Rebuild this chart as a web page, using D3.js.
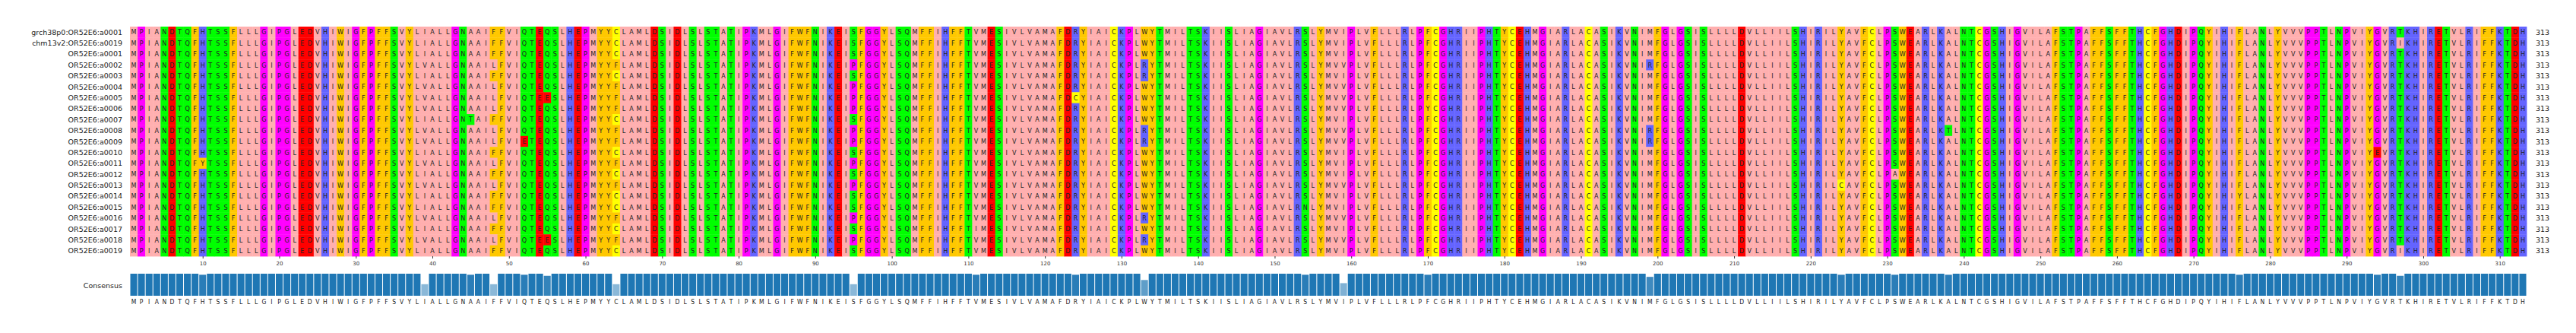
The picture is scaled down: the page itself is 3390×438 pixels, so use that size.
<!DOCTYPE html>
<html><head><meta charset="utf-8">
<script src="https://cdn.jsdelivr.net/npm/d3@7"></script>
<style>body{margin:0;background:#fff}</style>
</head><body>
<svg id="c" width="3390" height="438"></svg>
<script>
const names = ["grch38p0:OR52E6:a0001","chm13v2:OR52E6:a0019"].concat(d3.range(1,20).map(i=>"OR52E6:a"+String(i).padStart(4,"0")));
const consensus = "MPIANDTQFHTSSFLLLGIPGLEDVHIWIGFPFFSVYLIALLGNAAIFFVIQTEQSLHEPMYYCLAMLDSIDLSLSTAT" +
 "IPKMLGIFWFNIKEISFGGYLSQMFFIHFFTVMESIVLVAMAFDRYIAICKPLWYTMILTSKIISLIAGIAVLRSLYMV" +
 "IPLVFLLLRLPFCGHRIIPHTYCEHMGIARLACASIKVNIMFGLGSISLLLLDVLLIILSHIRILYAVFCLPSWEAR" +
 "LKALNTCGSHIGVILAFSTPAFFSFFTHCFGHDIPQYIHIFLANLYVVVPPTLNPVIYGVRTKHIRETVLRIFFKTDH";
// variants: [position (1-based), residue, rows]
const variants = [
 [10,"Y",[12]],
 [39,"V",[3,5,6,7,9,10,12,14,17,19]],
 [45,"T",[8]],
 [48,"L",[3,5,6,7,9,10,12,14,17,19]],
 [52,"E",[10]],
 [55,"E",[6,19]],
 [64,"F",[3,5,6,7,9,10,12,14,17,19]],
 [95,"P",[3,5,6,7,9,10,12,14,17,19]],
 [111,"I",[18]],
 [124,"C",[6]],
 [133,"R",[3,4,9,10,17,19]],
 [154,"N",[16]],
 [159,"V",[3,5,6,7,9,10,14,17,19]],
 [170,"Y",[7]],
 [199,"R",[3,9,10]],
 [224,"C",[14]],
 [231,"A",[13]],
 [238,"T",[9]],
 [276,"Y",[15]],
 [294,"E",[11]],
 [297,"I",[1,20]]
];
const tickLabels = d3.range(10,320,10);
const colors = {I:"#ffafaf",L:"#ffafaf",V:"#ffafaf",A:"#ffafaf",M:"#ffafaf",F:"#ffc800",W:"#ffc800",Y:"#ffc800",
 K:"#6464ff",R:"#6464ff",H:"#6464ff",D:"#ff0000",E:"#ff0000",S:"#00ff00",T:"#00ff00",N:"#00ff00",Q:"#00ff00",
 P:"#ff00ff",G:"#ff00ff",C:"#ffff00"};

const seqs = names.map(()=>consensus.split(""));
variants.forEach(([p,a,rows])=>rows.forEach(r=>seqs[r][p-1]=a));
const L = consensus.length;

const svg = d3.select("#c");
const x = d3.scaleBand().domain(d3.range(1,L+1)).range([171,3325]).padding(0);
const y = d3.scaleBand().domain(d3.range(names.length)).range([35,337]).padding(0);
const cw = x.bandwidth();

const g = svg.append("g");
seqs.forEach((s,r)=>{
  const row = g.append("g");
  row.selectAll("rect").data(s).join("rect")
    .attr("x",(d,i)=>x(i+1)).attr("y",y(r)).attr("width",cw+0.4).attr("height",y.bandwidth()+0.4)
    .attr("fill",d=>colors[d]||"#fff");
  row.selectAll("text").data(s).join("text")
    .attr("x",(d,i)=>x(i+1)+cw/2).attr("y",y(r)+y.bandwidth()/2)
    .attr("text-anchor","middle").attr("dominant-baseline","central")
    .attr("font-family","DejaVu Sans").attr("font-size",9.5).attr("fill","#222")
    .attr("transform",(d,i)=>`translate(${x(i+1)+cw/2},0) scale(0.85,1) translate(${-(x(i+1)+cw/2)},0)`)
    .text(d=>d);
});
svg.selectAll("text.name").data(names).join("text").attr("class","name")
  .attr("x",161).attr("y",(d,i)=>y(i)+y.bandwidth()/2).attr("text-anchor","end").attr("dominant-baseline","central")
  .attr("font-family","DejaVu Sans").attr("font-size",9.5).attr("fill","#222").text(d=>d);
svg.selectAll("text.len").data(names).join("text").attr("class","len")
  .attr("x",3337).attr("y",(d,i)=>y(i)+y.bandwidth()/2).attr("dominant-baseline","central")
  .attr("font-family","DejaVu Sans").attr("font-size",9.5).attr("fill","#222").text(L);

// position axis
const xa = d3.scaleLinear().domain([0.5,L+0.5]).range([171,3325]);
const ax = svg.append("g").attr("transform","translate(0,337)")
  .call(d3.axisBottom(xa).tickValues(tickLabels).tickSize(3).tickFormat(d3.format("d")));
ax.select(".domain").remove();
ax.selectAll("text").attr("font-family","DejaVu Sans").attr("font-size",7).attr("fill","#333").attr("dy","0.9em");
ax.selectAll("line").attr("stroke","#333");

// consensus bars
const cons = consensus.split("").map((c,i)=>seqs.filter(s=>s[i]===c).length/seqs.length);
const yb = d3.scaleLinear().domain([0,1]).range([389,360]);
const col = d3.interpolateRgb("#ffffff","#1f77b4");
svg.append("g").selectAll("rect").data(cons).join("rect")
  .attr("x",(d,i)=>x(i+1)+0.5).attr("width",cw-1).attr("y",d=>yb(d)).attr("height",d=>389-yb(d))
  .attr("fill",d=>col(d));
svg.append("text").attr("x",161).attr("y",375).attr("text-anchor","end").attr("dominant-baseline","central")
  .attr("font-family","DejaVu Sans").attr("font-size",9.5).attr("fill","#222").text("Consensus");
svg.append("g").selectAll("text").data(consensus.split("")).join("text")
  .attr("x",(d,i)=>x(i+1)+cw/2).attr("y",397).attr("text-anchor","middle").attr("dominant-baseline","central")
  .attr("font-family","DejaVu Sans").attr("font-size",9).attr("fill","#222")
  .attr("transform",(d,i)=>`translate(${x(i+1)+cw/2},0) scale(0.85,1) translate(${-(x(i+1)+cw/2)},0)`)
  .text(d=>d);
</script>
</body></html>
